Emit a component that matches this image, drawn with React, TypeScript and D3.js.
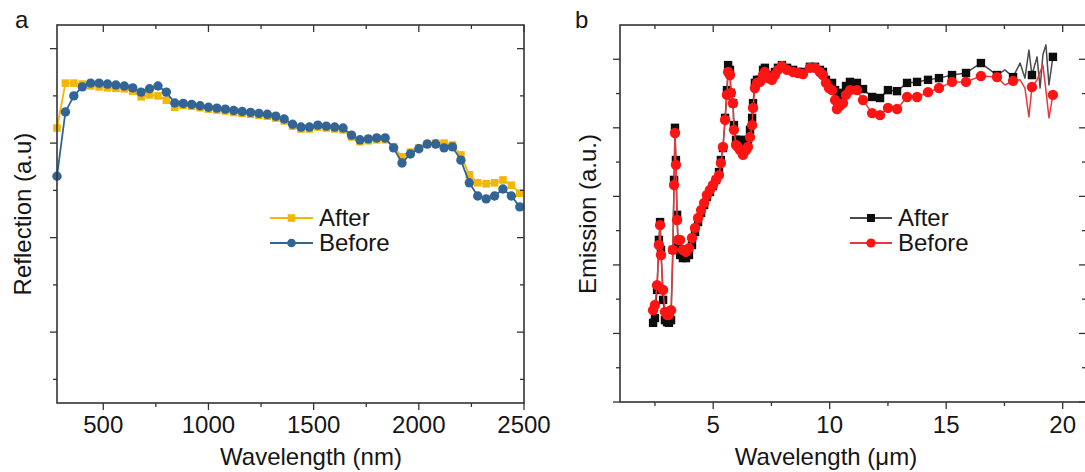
import React from 'react';
import * as d3 from 'd3';

// ---------- Panel a data ----------
const aWavelength = [280, 320, 360, 400, 440, 480, 520, 560, 600, 640, 680, 720, 760, 800, 840, 880, 920, 960, 1000, 1040, 1080, 1120, 1160, 1200, 1240, 1280, 1320, 1360, 1400, 1440, 1480, 1520, 1560, 1600, 1640, 1680, 1720, 1760, 1800, 1840, 1880, 1920, 1960, 2000, 2040, 2080, 2120, 2160, 2200, 2240, 2280, 2320, 2360, 2400, 2440, 2480];
const aAfter = [0.632, 0.727, 0.727, 0.725, 0.721, 0.719, 0.717, 0.716, 0.715, 0.710, 0.698, 0.702, 0.700, 0.691, 0.676,
  0.680, 0.678, 0.675, 0.672, 0.670, 0.668, 0.665, 0.663, 0.661, 0.659, 0.657,
  0.653, 0.647, 0.636, 0.630, 0.630, 0.634, 0.632, 0.630, 0.628, 0.613, 0.603, 0.605, 0.607, 0.607,
  0.592, 0.571, 0.581, 0.590, 0.598, 0.600, 0.600, 0.596, 0.575, 0.533, 0.516, 0.514, 0.516, 0.522, 0.511, 0.494];
const aBefore = [0.530, 0.666, 0.700, 0.719, 0.727, 0.727, 0.725, 0.723, 0.721, 0.717, 0.708, 0.715, 0.721, 0.708, 0.685,
  0.684, 0.682, 0.679, 0.676, 0.674, 0.672, 0.669, 0.667, 0.665, 0.663, 0.661,
  0.657, 0.651, 0.640, 0.634, 0.634, 0.638, 0.636, 0.634, 0.632, 0.617, 0.607, 0.609, 0.611, 0.611,
  0.590, 0.558, 0.577, 0.588, 0.598, 0.598, 0.590, 0.592, 0.564, 0.516, 0.488, 0.482, 0.488, 0.503, 0.488, 0.465];
const aXTicks = [500, 1000, 1500, 2000, 2500];
const aXMinor = [750, 1250, 1750, 2250];
const aYMajor = [0.2, 0.4, 0.6, 0.8];
const aYMinor = [0.1, 0.3, 0.5, 0.7];

// ---------- Panel b data ----------
const bWavelength = [2.42, 2.50, 2.59, 2.67, 2.72, 2.76, 2.85, 2.93, 3.02, 3.10, 3.19, 3.27, 3.32, 3.36, 3.40, 3.45, 3.49,
  3.58, 3.70, 3.83, 3.96, 4.09, 4.22, 4.35, 4.48, 4.61, 4.73, 4.86, 4.99, 5.12, 5.25, 5.33, 5.42, 5.51, 5.59, 5.64,
  5.72, 5.76, 5.85, 5.89, 5.98, 6.06, 6.15, 6.28, 6.41, 6.49, 6.58, 6.67, 6.71, 6.79, 6.88, 7.01, 7.14, 7.22, 7.35,
  7.52, 7.65, 7.78, 7.95, 8.17, 8.43, 8.64, 8.85, 9.15, 9.37, 9.58, 9.71, 9.84, 9.97, 10.10, 10.23, 10.31, 10.44,
  10.57, 10.70, 10.87, 11.17, 11.43, 11.82, 12.16, 12.50, 12.89, 13.32, 13.75, 14.22, 14.69, 15.25, 15.85, 16.49,
  17.18, 17.87, 18.68, 19.58];
const bAfter = [0.231, 0.245, 0.327, 0.473, 0.525, 0.444, 0.298, 0.239, 0.233, 0.231, 0.239, 0.444, 0.648, 0.800, 0.706, 0.546, 0.458,
  0.429, 0.420, 0.420, 0.429, 0.458, 0.496, 0.525, 0.552, 0.575, 0.598, 0.613, 0.630, 0.648, 0.671, 0.706, 0.741, 0.829, 0.910, 0.983,
  0.969, 0.902, 0.872, 0.808, 0.765, 0.765, 0.756, 0.750, 0.765, 0.759, 0.794, 0.829, 0.872, 0.931, 0.940, 0.940, 0.969, 0.975, 0.954,
  0.945, 0.963, 0.975, 0.983, 0.975, 0.969, 0.963, 0.963, 0.978, 0.978, 0.969, 0.963, 0.940, 0.925, 0.931, 0.910, 0.890, 0.896,
  0.902, 0.922, 0.934, 0.931, 0.913, 0.890, 0.887, 0.910, 0.907, 0.931, 0.934, 0.940, 0.945, 0.954, 0.960, 0.989,
  0.954, 0.948, 0.954, 1.007];
const bBefore = [0.268, 0.283, 0.341, 0.458, 0.516, 0.429, 0.327, 0.263, 0.254, 0.254, 0.268, 0.444, 0.633, 0.785, 0.692, 0.531, 0.473,
  0.473, 0.444, 0.438, 0.449, 0.479, 0.508, 0.537, 0.560, 0.581, 0.604, 0.619, 0.633, 0.648, 0.662, 0.697, 0.744, 0.823, 0.896, 0.963,
  0.954, 0.902, 0.872, 0.794, 0.750, 0.744, 0.735, 0.721, 0.735, 0.744, 0.773, 0.808, 0.858, 0.916, 0.931, 0.934, 0.954, 0.963, 0.945,
  0.940, 0.954, 0.969, 0.980, 0.969, 0.963, 0.960, 0.957, 0.975, 0.975, 0.963, 0.954, 0.931, 0.916, 0.910, 0.881, 0.855, 0.864,
  0.872, 0.896, 0.910, 0.910, 0.881, 0.843, 0.837, 0.858, 0.855, 0.890, 0.890, 0.904, 0.916, 0.934, 0.934, 0.951,
  0.948, 0.937, 0.919, 0.896];
// line-only points of the noisy far-IR tail (no markers)
const bTailWavelength = [17.52, 18.17, 18.38, 18.55, 18.90, 19.03, 19.15, 19.28, 19.41];
const bTailAfter = [0.969, 0.989, 0.945, 1.027, 1.007, 0.916, 1.013, 1.042, 0.925];
const bTailBefore = [0.925, 0.940, 0.916, 0.832, 0.940, 0.963, 0.983, 0.910, 0.829];
const bXTicks = [5, 10, 15, 20];
const bXMinor = [2.5, 7.5, 12.5, 17.5];
const bYMajor = [0, 0.2, 0.4, 0.6, 0.8, 1.0];
const bYMinor = [0.1, 0.3, 0.5, 0.7, 0.9];

const FONT = "Arimo, 'Liberation Sans', Arial, Helvetica, sans-serif";
const AXIS = '#333';
const TEXT = '#151515';
const YELLOW = '#F2B705';
const BLUE = '#326496';
const BLACK_M = '#0d0d0d';
const BLACK_L = '#4a4a4a';
const RED_M = '#FF1414';
const RED_L = '#E8383D';

type Pt = [number, number];

function Frame({ x, y, xMajor, xMinor, yMajor, yMinor, fmt }: any) {
  const [x0, x1] = x.range();
  const [y0, y1] = y.range(); // y0 bottom, y1 top
  const els: any[] = [];
  xMajor.forEach((t: number, i: number) => {
    const px = x(t);
    els.push(<line key={'xb' + i} x1={px} x2={px} y1={y0} y2={y0 + 7} stroke={AXIS} strokeWidth={1.3} />);
    els.push(<line key={'xt' + i} x1={px} x2={px} y1={y1} y2={y1 + 7} stroke={AXIS} strokeWidth={1.3} />);
    els.push(<text key={'xl' + i} x={px} y={433} textAnchor="middle" fontSize={24} fontFamily={FONT} fill={TEXT}>{fmt(t)}</text>);
  });
  xMinor.forEach((t: number, i: number) => {
    const px = x(t);
    els.push(<line key={'xbm' + i} x1={px} x2={px} y1={y0} y2={y0 + 4} stroke={AXIS} strokeWidth={1.3} />);
    els.push(<line key={'xtm' + i} x1={px} x2={px} y1={y1} y2={y1 + 4} stroke={AXIS} strokeWidth={1.3} />);
  });
  yMajor.forEach((t: number, i: number) => {
    const py = y(t);
    els.push(<line key={'yl' + i} x1={x0 - 7} x2={x0} y1={py} y2={py} stroke={AXIS} strokeWidth={1.3} />);
    els.push(<line key={'yr' + i} x1={x1 - 7} x2={x1} y1={py} y2={py} stroke={AXIS} strokeWidth={1.3} />);
  });
  yMinor.forEach((t: number, i: number) => {
    const py = y(t);
    els.push(<line key={'ylm' + i} x1={x0 - 4} x2={x0} y1={py} y2={py} stroke={AXIS} strokeWidth={1.3} />);
    els.push(<line key={'yrm' + i} x1={x1 - 4} x2={x1} y1={py} y2={py} stroke={AXIS} strokeWidth={1.3} />);
  });
  return (
    <g>
      <rect x={x0} y={y1} width={x1 - x0} height={y0 - y1} fill="none" stroke={AXIS} strokeWidth={1.6} />
      {els}
    </g>
  );
}

function Series({ pts, linePts, x, y, lineColor, markColor, shape, size, lw }: any) {
  const line = d3.line<Pt>().x(d => x(d[0])).y(d => y(d[1]));
  return (
    <g>
      <path d={line(linePts) || ''} fill="none" stroke={lineColor} strokeWidth={lw} strokeLinejoin="round" />
      {pts.map((d: Pt, i: number) =>
        shape === 'circle'
          ? <circle key={i} cx={x(d[0])} cy={y(d[1])} r={size} fill={markColor} />
          : <rect key={i} x={x(d[0]) - size} y={y(d[1]) - size} width={size * 2} height={size * 2} fill={markColor} />
      )}
    </g>
  );
}

function LegendItem({ x1, x2, y, label, lineColor, markColor, shape, size }: any) {
  const cx = (x1 + x2) / 2;
  return (
    <g>
      <line x1={x1} x2={x2} y1={y} y2={y} stroke={lineColor} strokeWidth={1.8} />
      {shape === 'circle'
        ? <circle cx={cx} cy={y} r={size} fill={markColor} />
        : <rect x={cx - size} y={y - size} width={size * 2} height={size * 2} fill={markColor} />}
      <text x={x2 + 6} y={y + 8} fontSize={24} fontFamily={FONT} fill={TEXT}>{label}</text>
    </g>
  );
}

export default function App() {
  // panel a
  const ax = d3.scaleLinear().domain([280, 2500]).range([57, 524]);
  const ay = d3.scaleLinear().domain([0.05, 0.85]).range([403, 25]);
  const aAfterPts: Pt[] = aWavelength.map((w, i) => [w, aAfter[i]]);
  const aBeforePts: Pt[] = aWavelength.map((w, i) => [w, aBefore[i]]);

  // panel b
  const bx = d3.scaleLinear().domain([1, 21]).range([620, 1086]);
  const by = d3.scaleLinear().domain([0, 1.1]).range([402, 25]);
  const bAfterPts: Pt[] = bWavelength.map((w, i) => [w, bAfter[i]]);
  const bBeforePts: Pt[] = bWavelength.map((w, i) => [w, bBefore[i]]);
  const bAfterLine: Pt[] = bAfterPts.concat(bTailWavelength.map((w, i) => [w, bTailAfter[i]] as Pt)).sort((p, q) => p[0] - q[0]);
  const bBeforeLine: Pt[] = bBeforePts.concat(bTailWavelength.map((w, i) => [w, bTailBefore[i]] as Pt)).sort((p, q) => p[0] - q[0]);

  return (
    <svg width={1085} height={472} style={{ position: 'absolute', left: 0, top: 0, background: '#fff' }}>
      <rect x={0} y={0} width={1085} height={472} fill="#fff" />
      {/* Panel a */}
      <text x={15} y={28} fontSize={24} fontFamily={FONT} fill={TEXT}>a</text>
      <Series pts={aAfterPts} linePts={aAfterPts} x={ax} y={ay} lineColor={YELLOW} markColor={YELLOW} shape="square" size={3.8} lw={1.8} />
      <Series pts={aBeforePts} linePts={aBeforePts} x={ax} y={ay} lineColor={BLUE} markColor={BLUE} shape="circle" size={4.7} lw={1.8} />
      <Frame x={ax} y={ay} xMajor={aXTicks} xMinor={aXMinor} yMajor={aYMajor} yMinor={aYMinor} fmt={(t: number) => String(t)} />
      <LegendItem x1={270} x2={313} y={218} label="After" lineColor={YELLOW} markColor={YELLOW} shape="square" size={3.8} />
      <LegendItem x1={270} x2={313} y={243} label="Before" lineColor={BLUE} markColor={BLUE} shape="circle" size={4.3} />
      <text x={311} y={465} textAnchor="middle" fontSize={24} fontFamily={FONT} fill={TEXT}>Wavelength (nm)</text>
      <text transform="translate(31,214) rotate(-90)" textAnchor="middle" fontSize={24} fontFamily={FONT} fill={TEXT}>Reflection (a.u)</text>

      {/* Panel b */}
      <text x={575} y={28} fontSize={24} fontFamily={FONT} fill={TEXT}>b</text>
      <Series pts={bAfterPts} linePts={bAfterLine} x={bx} y={by} lineColor={BLACK_L} markColor={BLACK_M} shape="square" size={4.2} lw={1.5} />
      <Series pts={bBeforePts} linePts={bBeforeLine} x={bx} y={by} lineColor={RED_L} markColor={RED_M} shape="circle" size={5.2} lw={1.5} />
      <Frame x={bx} y={by} xMajor={bXTicks} xMinor={bXMinor} yMajor={bYMajor} yMinor={bYMinor} fmt={(t: number) => String(t)} />
      <LegendItem x1={850} x2={892} y={218} label="After" lineColor={BLACK_L} markColor={BLACK_M} shape="square" size={4} />
      <LegendItem x1={850} x2={892} y={243} label="Before" lineColor={RED_L} markColor={RED_M} shape="circle" size={4.6} />
      <text x={826} y={465} textAnchor="middle" fontSize={24} fontFamily={FONT} fill={TEXT}>Wavelength (μm)</text>
      <text transform="translate(596,214) rotate(-90)" textAnchor="middle" fontSize={24} fontFamily={FONT} fill={TEXT}>Emission (a.u.)</text>
    </svg>
  );
}
